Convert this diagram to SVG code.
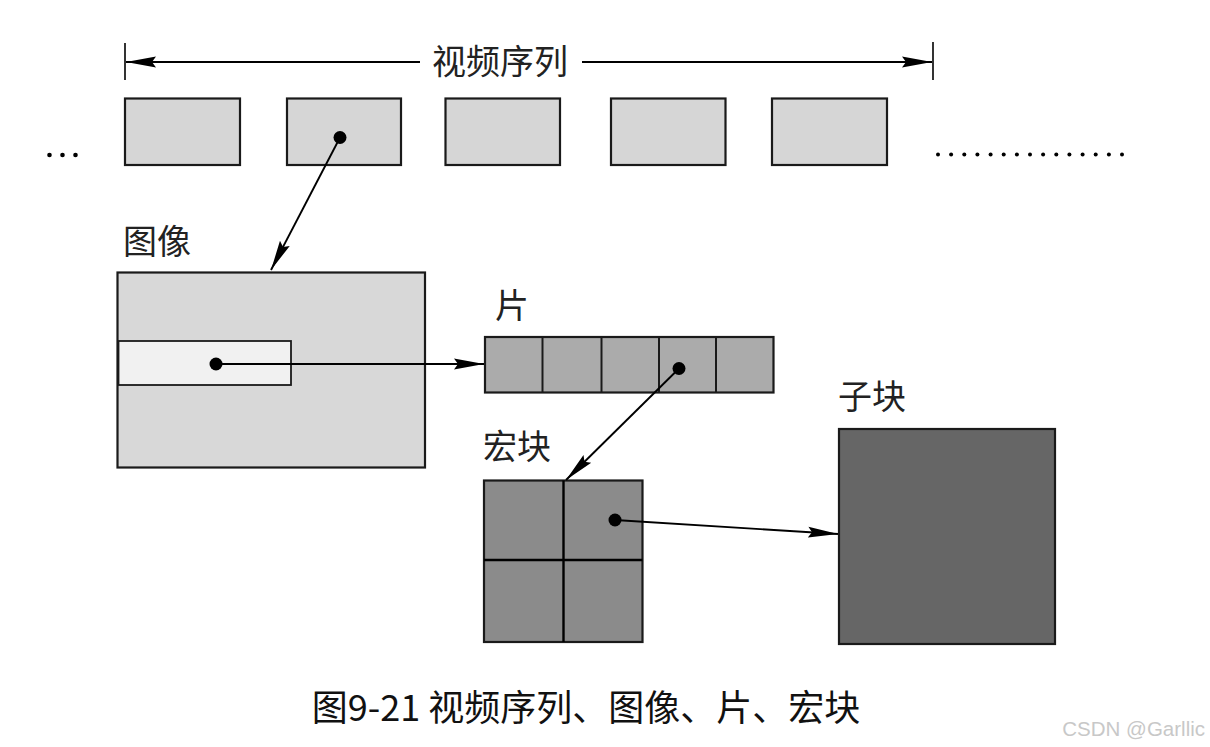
<svg xmlns="http://www.w3.org/2000/svg" width="1210" height="747" viewBox="0 0 1210 747">
<defs>
<marker id="ah" markerUnits="userSpaceOnUse" markerWidth="32" markerHeight="14" refX="30" refY="7" orient="auto">
<path d="M0,1.5 L30,7 L0,12.5 L4,7 z" fill="#000"/>
</marker>
<style>
.lbl{font-family:"Noto Sans CJK SC","Noto Sans CJK JP",sans-serif;font-size:34px;fill:#222}
.frame{fill:#d6d6d6;stroke:#1a1a1a;stroke-width:2.2}
.dot{fill:#000}
.con{stroke:#000;stroke-width:1.9;fill:none}
.dots{fill:#000}
</style>
</defs>
<rect width="1210" height="747" fill="#fff"/>

<g id="sequence">
<line x1="125" y1="43" x2="125" y2="80" stroke="#000" stroke-width="1.6"/>
<line x1="933" y1="42" x2="933" y2="80" stroke="#000" stroke-width="1.6"/>
<line class="con" x1="420" y1="62" x2="126" y2="62" marker-end="url(#ah)"/>
<line class="con" x1="582" y1="62" x2="932" y2="62" marker-end="url(#ah)"/>
<text class="lbl" x="500" y="74" text-anchor="middle" font-size="36">视频序列</text>
</g>

<g id="frames">
<rect class="frame" x="125" y="98.5" width="115" height="66.5"/>
<rect class="frame" x="287" y="98.5" width="114" height="66.5"/>
<rect class="frame" x="445.5" y="98.5" width="114.5" height="66.5"/>
<rect class="frame" x="611" y="98.5" width="114.5" height="66.5"/>
<rect class="frame" x="772" y="98.5" width="115" height="66.5"/>
<circle class="dot" cx="340" cy="137.5" r="6.5"/>
</g>

<g id="ellipsis">
<circle class="dots" cx="49.5" cy="155" r="2.3"/>
<circle class="dots" cx="62.5" cy="155" r="2.3"/>
<circle class="dots" cx="75.5" cy="155" r="2.3"/>
<circle class="dots" cx="938" cy="154.5" r="2"/><circle class="dots" cx="951.1" cy="154.5" r="2"/><circle class="dots" cx="964.3" cy="154.5" r="2"/><circle class="dots" cx="977.4" cy="154.5" r="2"/><circle class="dots" cx="990.6" cy="154.5" r="2"/><circle class="dots" cx="1003.7" cy="154.5" r="2"/><circle class="dots" cx="1016.9" cy="154.5" r="2"/><circle class="dots" cx="1030" cy="154.5" r="2"/><circle class="dots" cx="1043.1" cy="154.5" r="2"/><circle class="dots" cx="1056.3" cy="154.5" r="2"/><circle class="dots" cx="1069.4" cy="154.5" r="2"/><circle class="dots" cx="1082.6" cy="154.5" r="2"/><circle class="dots" cx="1095.7" cy="154.5" r="2"/><circle class="dots" cx="1108.9" cy="154.5" r="2"/><circle class="dots" cx="1122" cy="154.5" r="2"/>
</g>

<g id="picture">
<text class="lbl" x="123" y="254">图像</text>
<rect x="117.5" y="272.5" width="307.5" height="195" fill="#d8d8d8" stroke="#1a1a1a" stroke-width="2.2"/>
<rect x="118.5" y="341" width="172.5" height="44" fill="#f1f1f1" stroke="#1a1a1a" stroke-width="1.8"/>
<circle class="dot" cx="216" cy="364" r="6.5"/>
</g>

<g id="slice">
<text class="lbl" x="495" y="318">片</text>
<rect x="485" y="337" width="288.5" height="55.5" fill="#ababab" stroke="#1a1a1a" stroke-width="2.2"/>
<line x1="542.5" y1="337" x2="542.5" y2="392.5" stroke="#1a1a1a" stroke-width="2"/>
<line x1="601.5" y1="337" x2="601.5" y2="392.5" stroke="#1a1a1a" stroke-width="2"/>
<line x1="659" y1="337" x2="659" y2="392.5" stroke="#1a1a1a" stroke-width="2"/>
<line x1="716" y1="337" x2="716" y2="392.5" stroke="#1a1a1a" stroke-width="2"/>
<circle class="dot" cx="679" cy="368.5" r="6.5"/>
</g>

<g id="macroblock">
<text class="lbl" x="483" y="459">宏块</text>
<rect x="484" y="480.5" width="158.5" height="161.5" fill="#8b8b8b" stroke="#1a1a1a" stroke-width="2.2"/>
<line x1="563.5" y1="480.5" x2="563.5" y2="642" stroke="#000" stroke-width="2.4"/>
<line x1="484" y1="560" x2="642.5" y2="560" stroke="#000" stroke-width="2.4"/>
<circle class="dot" cx="615" cy="520" r="6.5"/>
</g>

<g id="subblock">
<text class="lbl" x="838" y="409">子块</text>
<rect x="839" y="429" width="216" height="215" fill="#666666" stroke="#1a1a1a" stroke-width="2.2"/>
</g>

<g id="connectors">
<line class="con" x1="340" y1="137.5" x2="271" y2="270" marker-end="url(#ah)"/>
<line class="con" x1="216" y1="364" x2="484" y2="364" marker-end="url(#ah)"/>
<line class="con" x1="679" y1="368.5" x2="566" y2="480" marker-end="url(#ah)"/>
<line class="con" x1="615" y1="520" x2="838" y2="534" marker-end="url(#ah)"/>
</g>

<g id="caption">
<text x="586" y="721" text-anchor="middle" font-family="'Noto Sans CJK SC','Noto Sans CJK JP',sans-serif" font-size="36" fill="#111">图9-21 视频序列、图像、片、宏块</text>
<text x="1205" y="736" text-anchor="end" font-family="'Liberation Sans',Arial,sans-serif" font-size="20.5" fill="#c8c8c8">CSDN @Garllic</text>
</g>
</svg>
